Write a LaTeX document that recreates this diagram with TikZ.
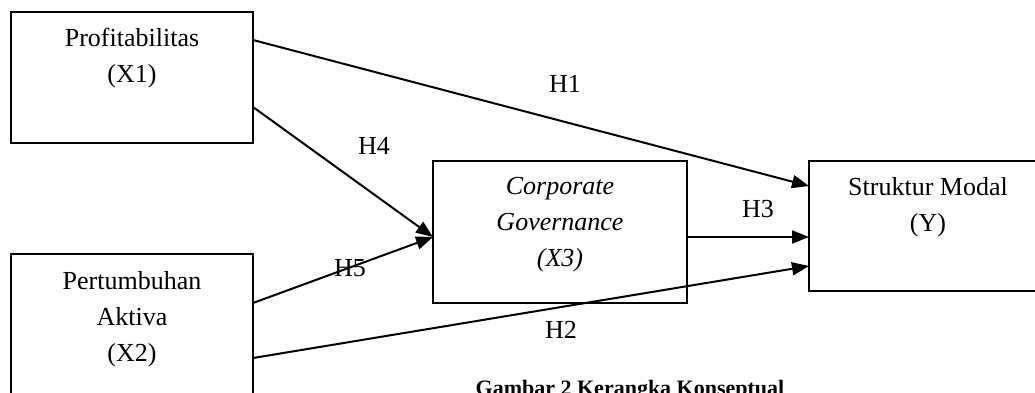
\documentclass[tikz,border=0pt]{standalone}
\usepackage{fontspec}
\setmainfont{Liberation Serif}
\usepackage{tikz}
\usetikzlibrary{positioning, arrows.meta}
\tikzset{
    var/.style={draw, line width=2pt, inner sep=0pt, outer sep=0pt},
    vartext/.style={anchor=north, align=center, inner sep=0pt, font=\fontsize{26}{36}\selectfont},
    hyp/.style={inner sep=0pt, font=\fontsize{26}{31}\selectfont},
    link/.style={line width=2pt, -{Triangle[length=17pt, width=13pt]}},
}

\begin{document}
\begin{tikzpicture}[x=1pt, y=-1pt]
    \useasboundingbox (0,0) rectangle (1035,392);
    \clip (0,0) rectangle (1035,392);

    \node[var, minimum width=242pt, minimum height=131pt] (x1) at (132,77.5) {};
    \node[var, minimum width=242pt, minimum height=166pt] (x2) at (132,337) {};
    \node[var, minimum width=254pt, minimum height=142pt] (x3) at (560,232) {};
    \node[var, minimum width=238pt, minimum height=130pt] (ym) at (928,226) {};

    \node[vartext, below=16pt of x1.north] (x1t) {Profitabilitas\\(X1)};
    \node[vartext, below=17pt of x2.north] (x2t) {Pertumbuhan\\Aktiva\\(X2)};
    \node[vartext, below=16pt of x3.north, font=\fontsize{26}{36}\selectfont\itshape] (x3t) {Corporate\\Governance\\(X3)};
    \node[vartext, below=16pt of ym.north] (ymt) {Struktur Modal\\(Y)};

    \draw[link] ([yshift=37.5pt]x1.east) -- ([yshift=40pt]ym.west);
    \draw[link] ([yshift=-29.5pt]x1.east) -- ([yshift=-5pt]x3.west);
    \draw[link] ([yshift=34pt]x2.east) -- ([yshift=-5pt]x3.west);
    \draw[link] ([yshift=-5pt]x3.east) -- ([yshift=-11pt]ym.west);
    \draw[link] ([yshift=-21pt]x2.east) -- ([yshift=-40pt]ym.west);

    \node[hyp] (h1) at (565,84) {H1};
    \node[hyp] (h4) at (374,146) {H4};
    \node[hyp] (h5) at (350,268) {H5};
    \node[hyp] (h3) at (758,209) {H3};
    \node[hyp] (h2) at (561,330) {H2};

    \node[anchor=base, font=\bfseries\fontsize{22}{26}\selectfont] (cap) at (630,395) {Gambar 2 Kerangka Konseptual};
\end{tikzpicture}
\end{document}
